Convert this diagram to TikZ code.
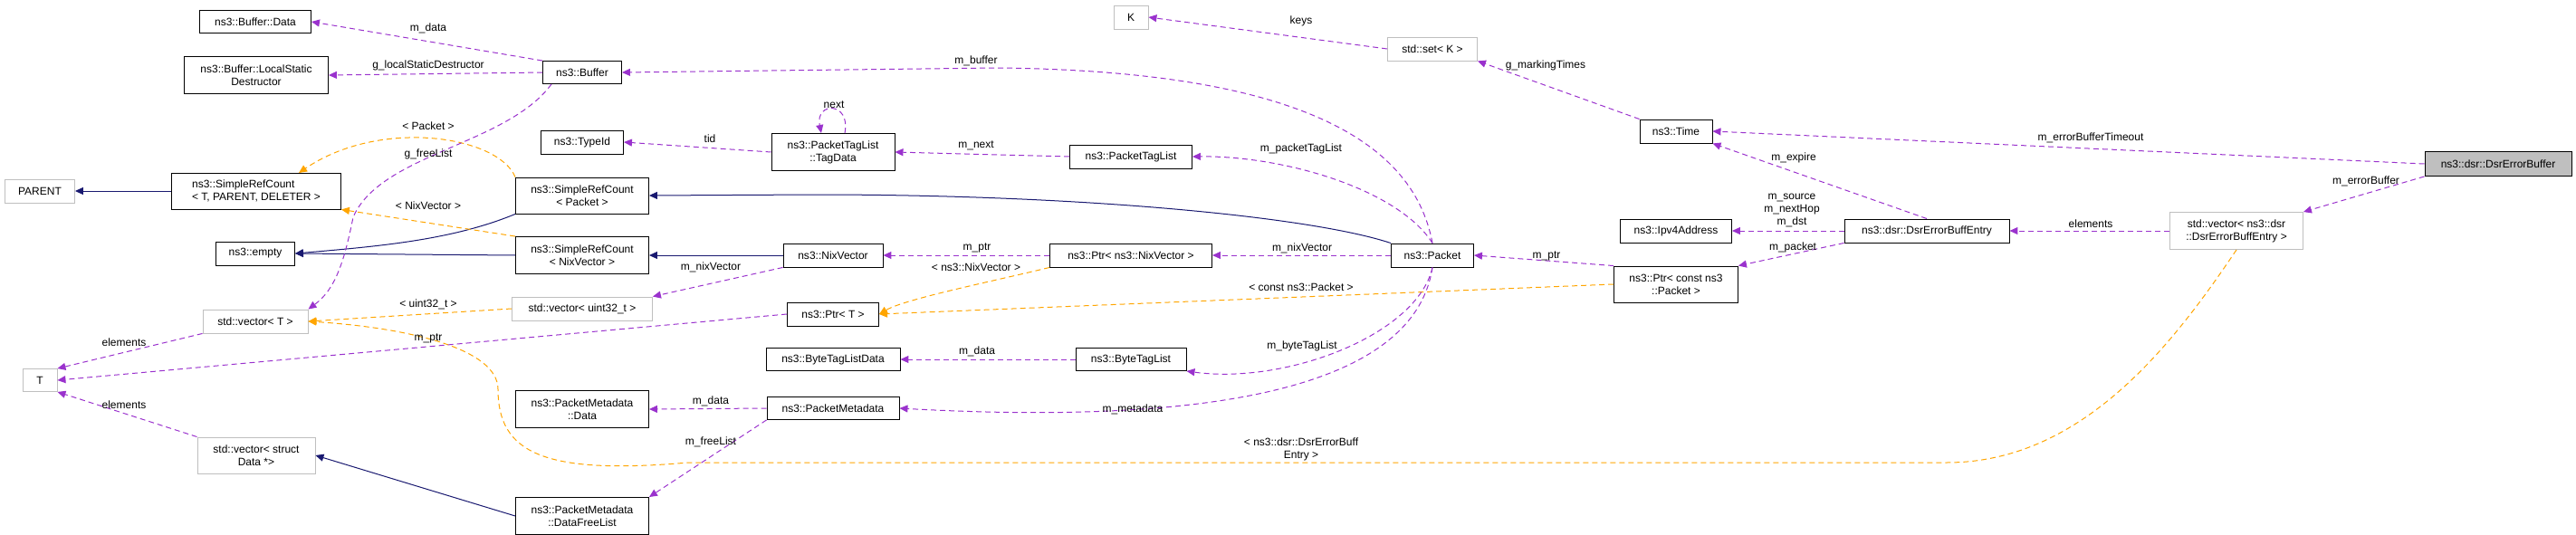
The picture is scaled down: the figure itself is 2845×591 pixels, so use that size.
\documentclass[tikz,border=0pt]{standalone}
\usepackage{fontspec}
\setmainfont{Liberation Sans}
\usetikzlibrary{arrows.meta}
\definecolor{pur}{HTML}{9A32CD}
\definecolor{org}{HTML}{FFA500}
\definecolor{nav}{HTML}{191970}
\definecolor{gbd}{HTML}{BFBFBF}
\begin{document}
\begin{tikzpicture}[x=1pt,y=-1pt,
  every node/.style={font=\fontsize{12}{14}\selectfont, inner sep=0pt},
  box/.style n args={2}{draw=black, line width=0.9pt, minimum width=#1, minimum height=#2, align=center},
  gbox/.style n args={2}{draw=gbd, line width=0.9pt, minimum width=#1, minimum height=#2, align=center},
  use/.style={draw=pur, line width=1pt, dash pattern=on 6pt off 4pt, -{Triangle[length=9pt,width=8pt]}},
  tpl/.style={draw=org, line width=1pt, dash pattern=on 6pt off 4pt, -{Triangle[length=9pt,width=8pt]}},
  inh/.style={draw=nav, line width=1pt, -{Triangle[length=9pt,width=8pt]}},
  lbl/.style={fill=none}]
\useasboundingbox (0,0) rectangle (2845,591);
% nodes
\node[box={123}{25}] (bdata) at (282,24) {ns3::Buffer::Data};
\node[box={159}{41}] (blsd) at (283,83) {ns3::Buffer::LocalStatic\\Destructor};
\node[box={87}{25}] (buffer) at (643,80) {ns3::Buffer};
\node[gbox={77}{26}] (parent) at (44,211) {PARENT};
\node[box={187}{40}, align=left] (srct) at (283,211) {ns3::SimpleRefCount\\< T, PARENT, DELETER >};
\node[box={91}{26}] (typeid) at (643,157) {ns3::TypeId};
\node[box={147}{40}] (srcp) at (643,216) {ns3::SimpleRefCount\\< Packet >};
\node[box={87}{26}] (empty) at (282,280) {ns3::empty};
\node[box={147}{41}] (srcn) at (643,282) {ns3::SimpleRefCount\\< NixVector >};
\node[gbox={116}{26}] (vect) at (282,355) {std::vector< T >};
\node[gbox={155}{26}] (vecu) at (643,341) {std::vector< uint32\_t >};
\node[gbox={38}{25}] (T) at (44,420) {T};
\node[box={147}{41}] (pmdata) at (643,452) {ns3::PacketMetadata\\::Data};
\node[gbox={130}{40}] (vecsd) at (283,503) {std::vector< struct\\Data *>};
\node[box={147}{41}] (dfl) at (643,570) {ns3::PacketMetadata\\::DataFreeList};
\node[gbox={38}{26}] (K) at (1249,19) {K};
\node[box={136}{41}] (tagdata) at (920,168) {ns3::PacketTagList\\::TagData};
\node[box={135}{26}] (ptaglist) at (1249,173) {ns3::PacketTagList};
\node[box={110}{26}] (nix) at (920,282) {ns3::NixVector};
\node[box={179}{26}] (ptrnix) at (1249,282) {ns3::Ptr< ns3::NixVector >};
\node[box={101}{26}] (ptrT) at (920,347) {ns3::Ptr< T >};
\node[box={148}{25}] (btld) at (920,397) {ns3::ByteTagListData};
\node[box={122}{25}] (btl) at (1249,397) {ns3::ByteTagList};
\node[box={146}{25}] (pm) at (920,451) {ns3::PacketMetadata};
\node[gbox={99}{26}] (setK) at (1582,54) {std::set< K >};
\node[box={80}{26}] (time) at (1851,145) {ns3::Time};
\node[box={123}{26}] (ipv4) at (1851,255) {ns3::Ipv4Address};
\node[box={182}{26}] (dbe) at (2128,255) {ns3::dsr::DsrErrorBuffEntry};
\node[box={91}{26}] (packet) at (1582,282) {ns3::Packet};
\node[box={137}{40}] (ptrcp) at (1851,314) {ns3::Ptr< const ns3\\::Packet >};
\node[box={162}{27}, fill=gbd] (deb) at (2759,181) {ns3::dsr::DsrErrorBuffer};
\node[gbox={147}{41}] (vecdbe) at (2470,255) {std::vector< ns3::dsr\\::DsrErrorBuffEntry >};
% inheritance
\draw[inh] (srct) -- (parent);
\draw[inh] (srcp.south west) .. controls (500,265) and (420,272) .. (empty.east);
\draw[inh] (srcn.west) -- (empty.east);
\draw[inh] (packet.north west) .. controls (1450,240) and (1200,215) .. (900,215) -- (srcp.east);
\draw[inh] (nix.west) -- (srcn.east |- nix.west);
\draw[inh] (dfl.west) -- (vecsd.east);
% templates
\draw[tpl] (srcp.north west) .. controls (550,150) and (420,130) .. (330,191);
\draw[tpl] (srcn.north west) -- (srct.south east);
\draw[tpl] (vecu.west) -- (vect.east);
\draw[tpl] (ptrnix.south west) .. controls (1100,310) and (1000,330) .. (ptrT.east);
\draw[tpl] (ptrcp.west) -- (ptrT.east);
\draw[tpl] (vecdbe.south) .. controls (2400,380) and (2300,511) .. (2150,511) -- (760,511) .. controls (600,525) and (550,500) .. (550,430) .. controls (550,385) and (450,362) .. (vect.east);
% usage
\draw[use] (buffer.north west) -- (bdata.east);
\draw[use] (buffer.west) -- (blsd.east);
\draw[use] (609,93) .. controls (560,160) and (420,170) .. (390,240) .. controls (380,290) and (370,320) .. (vect.north east);
\draw[use] (packet.north) .. controls (1560,150) and (1420,78) .. (1100,75) -- (buffer.east);
\draw[use] (tagdata.west) -- (typeid.east);
\draw[use] (933,147) .. controls (940,112) and (900,112) .. (907,147);
\draw[use] (ptaglist.west) -- (tagdata.east);
\draw[use] (packet.north) .. controls (1545,210) and (1420,172) .. (ptaglist.east);
\draw[use] (nix.south west) -- (vecu.north east);
\draw[use] (ptrnix.west) -- (nix.east);
\draw[use] (packet.west) -- (ptrnix.east);
\draw[use] (ptrT.west) -- (T.east);
\draw[use] (vect.south west) -- (T.north east);
\draw[use] (vecsd.north west) -- (T.south east);
\draw[use] (btl.west) -- (btld.east);
\draw[use] (packet.south) .. controls (1565,370) and (1420,425) .. (btl.south east);
\draw[use] (pm.west) -- (pmdata.east);
\draw[use] (packet.south) .. controls (1560,440) and (1300,468) .. (pm.east);
\draw[use] (pm.south west) -- (dfl.north east);
\draw[use] (setK.west) -- (K.east);
\draw[use] (time.north west) -- (setK.south east);
\draw[use] (dbe.north) -- (time.south east);
\draw[use] (dbe.west) -- (ipv4.east);
\draw[use] (dbe.south west) -- (ptrcp.north east);
\draw[use] (ptrcp.north west) -- (packet.east);
\draw[use] (deb.west) -- (time.east);
\draw[use] (deb.south west) -- (vecdbe.north east);
\draw[use] (vecdbe.west) -- (dbe.east);
% labels
\node[lbl] (l1) at (473,31) {m\_data};
\node[lbl] (l2) at (473,72) {g\_localStaticDestructor};
\node[lbl] (l3) at (473,139) {< Packet >};
\node[lbl] (l4) at (473,170) {g\_freeList};
\node[lbl] (l5) at (473,227) {< NixVector >};
\node[lbl] (l6) at (473,336) {< uint32\_t >};
\node[lbl] (l7) at (473,374) {m\_ptr};
\node[lbl] (l8) at (137,378) {elements};
\node[lbl] (l9) at (137,447) {elements};
\node[lbl] (l10) at (1437,23) {keys};
\node[lbl] (l11) at (1078,67) {m\_buffer};
\node[lbl] (l12) at (921,116) {next};
\node[lbl] (l13) at (784,153) {tid};
\node[lbl] (l14) at (1078,161) {m\_next};
\node[lbl] (l15) at (1437,164) {m\_packetTagList};
\node[lbl] (l16) at (1079,274) {m\_ptr};
\node[lbl] (l17) at (1438,274) {m\_nixVector};
\node[lbl] (l18) at (785,295) {m\_nixVector};
\node[lbl] (l19) at (1078,295) {< ns3::NixVector >};
\node[lbl] (l20) at (1437,317) {< const ns3::Packet >};
\node[lbl] (l21) at (1079,388) {m\_data};
\node[lbl] (l22) at (1438,382) {m\_byteTagList};
\node[lbl] (l23) at (785,443) {m\_data};
\node[lbl] (l24) at (1251,452) {m\_metadata};
\node[lbl] (l25) at (785,488) {m\_freeList};
\node[lbl, align=center] (l26) at (1437,496) {< ns3::dsr::DsrErrorBuff\\Entry >};
\node[lbl] (l27) at (1707,72) {g\_markingTimes};
\node[lbl] (l28) at (1981,174) {m\_expire};
\node[lbl, align=center] (l29) at (1979,232) {m\_source\\m\_nextHop\\m\_dst};
\node[lbl] (l30) at (1980,273) {m\_packet};
\node[lbl] (l31) at (1708,283) {m\_ptr};
\node[lbl] (l32) at (2309,152) {m\_errorBufferTimeout};
\node[lbl] (l33) at (2613,200) {m\_errorBuffer};
\node[lbl] (l34) at (2309,247) {elements};
\end{tikzpicture}
\end{document}
